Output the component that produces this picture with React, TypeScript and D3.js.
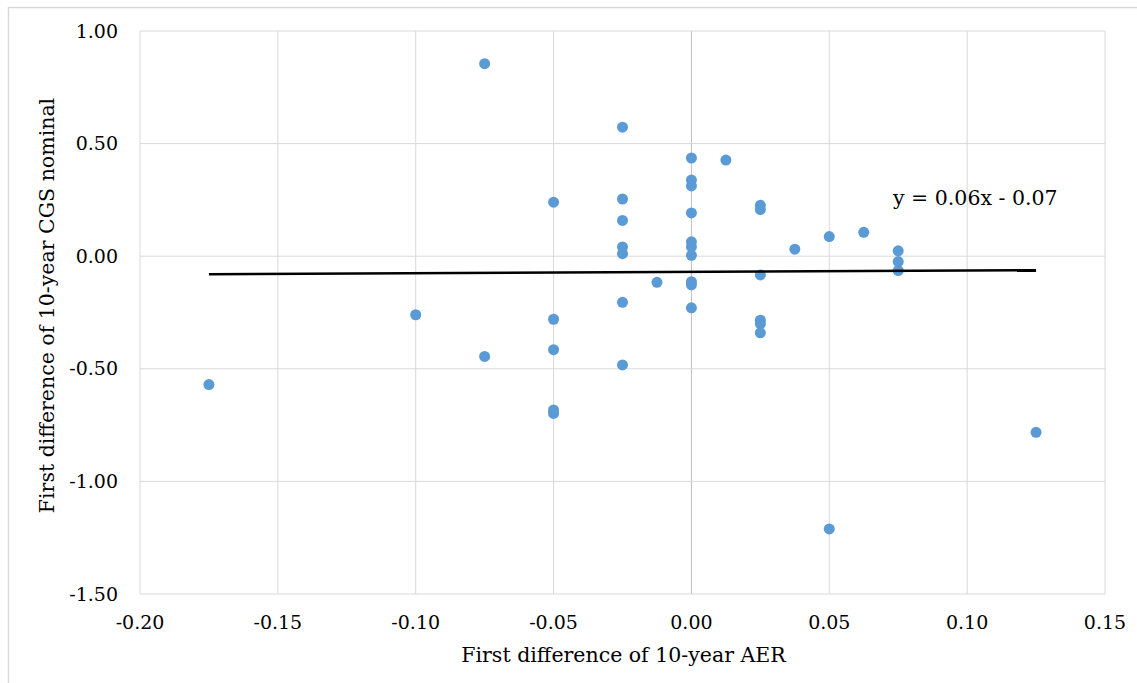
import React from "react";
import * as d3 from "d3";

const xValues: number[] = [
  -0.175, -0.1, -0.075, -0.075, -0.05, -0.05, -0.05, -0.05, -0.05,
  -0.025, -0.025, -0.025, -0.025, -0.025, -0.025, -0.025, -0.0125,
  0, 0, 0, 0, 0, 0, 0, 0, 0, 0, 0.0125,
  0.025, 0.025, 0.025, 0.025, 0.025, 0.025, 0.0375, 0.05, 0.05, 0.0625,
  0.075, 0.075, 0.075, 0.125,
];
const yValues: number[] = [
  -0.57, -0.26, 0.855, -0.445, 0.24, -0.28, -0.415, -0.683, -0.698,
  0.573, 0.254, 0.159, 0.041, 0.011, -0.205, -0.483, -0.116,
  0.436, 0.338, 0.312, 0.192, 0.064, 0.041, 0.004, -0.113, -0.127, -0.229, 0.427,
  0.226, 0.207, -0.083, -0.284, -0.3, -0.34, 0.031, 0.087, -1.211, 0.106,
  0.024, -0.024, -0.064, -0.782,
];
const xTicks: number[] = [-0.2, -0.15, -0.1, -0.05, 0, 0.05, 0.1, 0.15];
const yTicks: number[] = [1, 0.5, 0, -0.5, -1, -1.5];
const trendSlope = 0.06;
const trendIntercept = -0.07;
const trendLabel = "y = 0.06x - 0.07";
const xTitle = "First difference of 10-year AER";
const yTitle = "First difference of 10-year CGS nominal";

const W = 1137;
const H = 683;
const FONT = "'DejaVu Serif', 'Liberation Serif', serif";

export default function App() {
  const left = 140, right = 1105, top = 31, bottom = 594;
  const x = d3.scaleLinear().domain([-0.2, 0.15]).range([left, right]);
  const y = d3.scaleLinear().domain([-1.5, 1]).range([bottom, top]);
  const fmt = (v: number) => d3.format(".2f")(v).replace("\u2212", "-");
  const xMin = d3.min(xValues) as number;
  const xMax = d3.max(xValues) as number;
  const line = d3.line<number>()
    .x((d) => x(d))
    .y((d) => y(trendSlope * d + trendIntercept));
  return (
    <svg width={W} height={H} style={{ position: "absolute", left: 0, top: 0, background: "#fff" }}>
      <rect x={8.5} y={7.5} width={W + 20} height={H + 20} fill="#fff" stroke="#d9d9d9" strokeWidth={1.5} />
      {xTicks.map((t) => (
        <line key={"gx" + t} x1={x(t)} x2={x(t)} y1={top} y2={bottom}
          stroke={t === 0 ? "#bfbfbf" : "#d9d9d9"} strokeWidth={1} />
      ))}
      {yTicks.map((t) => (
        <line key={"gy" + t} x1={left} x2={right} y1={y(t)} y2={y(t)} stroke="#d9d9d9" strokeWidth={1} />
      ))}
      {yTicks.map((t) => (
        <text key={"ty" + t} x={118} y={y(t)} dy="0.35em" textAnchor="end"
          fontFamily={FONT} fontSize={19} fill="#000">{fmt(t)}</text>
      ))}
      {xTicks.map((t) => (
        <text key={"tx" + t} x={x(t)} y={622} dy="0.35em" textAnchor="middle"
          fontFamily={FONT} fontSize={19} fill="#000">{fmt(t)}</text>
      ))}
      {xValues.map((xv, i) => (
        <circle key={"p" + i} cx={x(xv)} cy={y(yValues[i])} r={5.5} fill="#5b9bd5" />
      ))}
      <path d={line([xMin, xMax]) || ""} fill="none" stroke="#000" strokeWidth={2.5} />
      <text x={893} y={198} dy="0.35em" fontFamily={FONT} fontSize={20.5} fill="#000">{trendLabel}</text>
      <text x={(left + right) / 2 + 1} y={655} dy="0.35em" textAnchor="middle"
        fontFamily={FONT} fontSize={20.5} fill="#000">{xTitle}</text>
      <text transform={`translate(47,${(top + bottom) / 2 - 7}) rotate(-90)`} dy="0.35em" textAnchor="middle"
        fontFamily={FONT} fontSize={20.5} fill="#000">{yTitle}</text>
    </svg>
  );
}
